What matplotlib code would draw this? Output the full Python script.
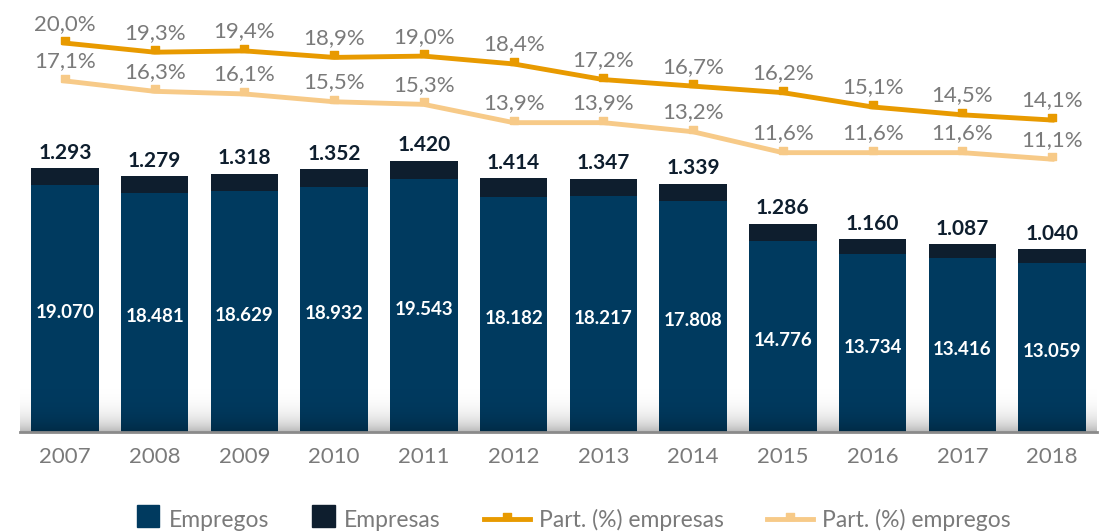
import numpy as np
import matplotlib
matplotlib.use("Agg")
from matplotlib import pyplot as plt
from matplotlib.patches import Patch
from matplotlib.lines import Line2D
from matplotlib.legend_handler import HandlerPatch

plt.rcParams['font.family'] = ['Lato', 'DejaVu Sans']

anos = ['2007', '2008', '2009', '2010', '2011', '2012', '2013', '2014', '2015', '2016', '2017', '2018']
empregos = [19070, 18481, 18629, 18932, 19543, 18182, 18217, 17808, 14776, 13734, 13416, 13059]
empresas = [1293, 1279, 1318, 1352, 1420, 1414, 1347, 1339, 1286, 1160, 1087, 1040]
part_empresas = [20.0, 19.3, 19.4, 18.9, 19.0, 18.4, 17.2, 16.7, 16.2, 15.1, 14.5, 14.1]
part_empregos = [17.1, 16.3, 16.1, 15.5, 15.3, 13.9, 13.9, 13.2, 11.6, 11.6, 11.6, 11.1]

c_empregos = '#003a5f'
c_empresas = '#0e1e2e'
c_linha1 = '#e89a00'
c_linha2 = '#f7ca88'
c_texto = '#7a7a7a'


def fmt_milhar(v):
    return f'{v:,}'.replace(',', '.')


def fmt_pct(v):
    return f'{v:.1f}%'.replace('.', ',')


class Quadrado(HandlerPatch):
    # caixa quadrada na legenda, mais estreita que as linhas
    def legend_artist(self, legend, orig_handle, fontsize, handlebox):
        handlebox.width = 16
        handlebox.height = 16
        return super().legend_artist(legend, orig_handle, fontsize, handlebox)


# marcador: pequeno retangulo acima da linha
marcador = [(-1, -0.3), (1, -0.3), (1, 1.6), (-1, 1.6), (-1, -0.3)]

fig = plt.figure(figsize=(11.17, 5.31), dpi=100)
ax = fig.add_axes([20 / 1117, 99 / 531, 1077 / 1117, 432 / 531])
x = np.arange(len(anos))

ax.bar(x, empregos, width=0.75, color=c_empregos, zorder=2)
ax.bar(x, empresas, width=0.75, bottom=empregos, color=c_empresas, zorder=2)

ax.set_xlim(-0.5, len(anos) - 0.5)
ax.set_xticks(x)
ax.set_xticklabels(anos, fontsize=16, color=c_texto)
ax.tick_params(axis='x', length=0, pad=11)
ax.set_yticks([])
for s in ['top', 'right', 'left']:
    ax.spines[s].set_visible(False)
ax.spines['bottom'].set_color('#8a8a8a')
ax.spines['bottom'].set_linewidth(2)
ax.spines['bottom'].set_zorder(5)

# sombra suave junto ao eixo
grad = np.linspace(0, 1, 200)[:, None] ** 6
rgba = np.zeros((200, 1, 4))
rgba[..., 3] = grad * 0.28
ax.imshow(rgba, extent=(-0.5, len(anos) - 0.5, 0, 6500), aspect='auto', zorder=3)
ax.set_ylim(0, 33360)

for i in range(len(anos)):
    ax.annotate(fmt_milhar(empregos[i]), (x[i], empregos[i] / 2), xytext=(0, -3),
                textcoords='offset points', ha='center', va='center',
                color='white', fontsize=13.5, fontweight='bold', zorder=6)
    ax.annotate(fmt_milhar(empresas[i]), (x[i], empregos[i] + empresas[i]), xytext=(0, 4),
                textcoords='offset points', ha='center', va='bottom',
                color=c_empresas, fontsize=15, fontweight='bold', zorder=6)

ax2 = ax.twinx()
ax2.set_ylim(-9.81, 23.3)
ax2.axis('off')
ax2.plot(x, part_empresas, color=c_linha1, lw=3.5, marker=marcador, markersize=9, zorder=4)
ax2.plot(x, part_empregos, color=c_linha2, lw=3.5, marker=marcador, markersize=9, zorder=4)
for i in range(len(anos)):
    ax2.annotate(fmt_pct(part_empresas[i]), (x[i], part_empresas[i]), xytext=(0, 14),
                 textcoords='offset points', ha='center', va='center',
                 color=c_texto, fontsize=16)
    ax2.annotate(fmt_pct(part_empregos[i]), (x[i], part_empregos[i]), xytext=(0, 14),
                 textcoords='offset points', ha='center', va='center',
                 color=c_texto, fontsize=16)

handles = [
    Patch(color=c_empregos, label='Empregos'),
    Patch(color=c_empresas, label='Empresas'),
    Line2D([], [], color=c_linha1, lw=3.5, marker=marcador, markersize=9, label='Part. (%) empresas'),
    Line2D([], [], color=c_linha2, lw=3.5, marker=marcador, markersize=9, label='Part. (%) empregos'),
]
leg = fig.legend(handles=handles, loc='center', bbox_to_anchor=(0.514, 0.025), ncol=4,
                 frameon=False, fontsize=16.5, handlelength=2.0,
                 columnspacing=1.9, handletextpad=0.4,
                 handler_map={Patch: Quadrado()})
for t in leg.get_texts():
    t.set_color(c_texto)

fig.savefig('out.png', dpi=100)
